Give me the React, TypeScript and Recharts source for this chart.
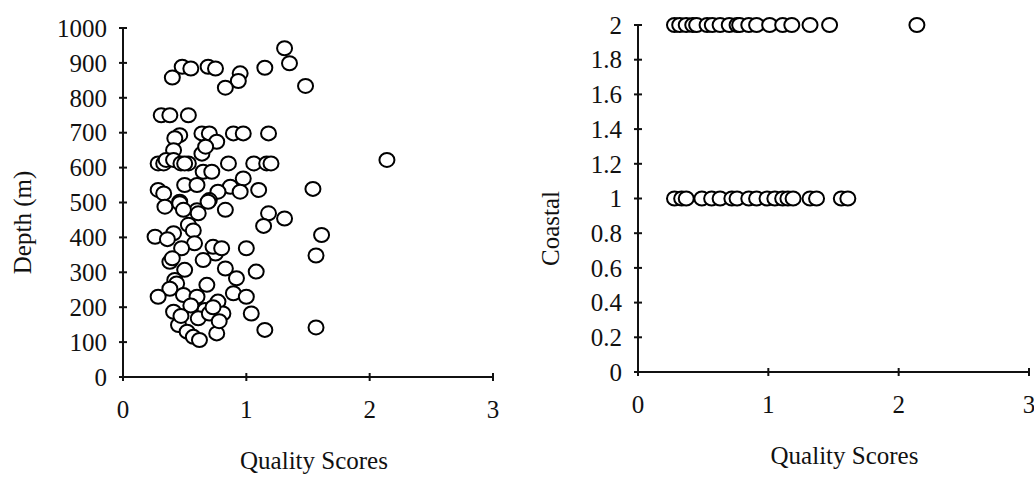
import React from 'react';
import { ScatterChart, Scatter, XAxis, YAxis } from 'recharts';

// Left panel: quality score vs depth (m)
const depthQuality: number[] = [
  1.31, 1.35, 1.48, 1.15, 0.95, 0.935, 0.83, 0.69, 0.75, 0.48, 0.55, 0.40,
  0.31, 0.38, 0.53,
  0.46, 0.42, 0.64, 0.70, 0.76, 0.895, 0.975, 1.18, 0.64, 0.67, 0.41,
  0.285, 0.33, 0.35, 0.41, 0.47, 0.53, 0.50, 0.855, 1.06, 1.165, 1.20, 2.14,
  0.65, 0.72, 0.975, 0.87, 0.50, 0.60, 0.285, 0.33, 0.77, 0.95, 1.10, 1.54,
  0.46, 0.70, 0.83, 0.34, 0.46, 0.60, 0.49, 0.61, 0.69, 1.18, 1.14, 1.31, 0.53, 0.57,
  1.61, 0.26, 0.41, 0.36, 0.58, 0.475, 0.75, 0.73, 0.80, 1.00, 1.565, 0.65, 0.38, 0.40,
  0.50, 0.83, 1.08, 0.92, 0.42, 0.435, 0.68, 0.38,
  0.285, 0.49, 0.60, 0.895, 1.00, 0.77, 0.665, 0.41, 0.61, 0.70, 0.81, 1.04, 0.73,
  0.45, 0.52, 0.57, 0.62, 0.76, 1.15, 1.565, 0.55, 0.47, 0.78,
];
const depthValues: number[] = [
  942, 899, 834, 886, 870, 848, 829, 889, 884, 889, 884, 858,
  750, 750, 750,
  693, 684, 698, 698, 674, 698, 698, 698, 640, 660, 650,
  612, 612, 622, 622, 612, 612, 612, 612, 612, 612, 612, 622,
  588, 588, 569, 545, 550, 550, 536, 526, 531, 531, 536, 539,
  502, 507, 479, 488, 498, 478, 479, 469, 502, 469, 433, 454, 436, 420,
  407, 402, 412, 395, 383, 369, 354, 373, 369, 369, 348, 335, 330, 340,
  307, 311, 302, 283, 278, 268, 264, 253,
  230, 235, 230, 240, 230, 216, 192, 187, 168, 182, 182, 182, 200,
  149, 130, 115, 106, 125, 135, 142, 205, 175, 160,
];

// Right panel: quality score vs coastal class (1 or 2)
const coastal2Quality: number[] = [
  0.28, 0.32, 0.37, 0.42, 0.45, 0.53, 0.57, 0.63, 0.70, 0.76, 0.78, 0.85, 0.91,
  1.01, 1.11, 1.18, 1.32, 1.47, 2.14,
];
const coastal1Quality: number[] = [
  0.28, 0.335, 0.37, 0.49, 0.565, 0.63, 0.72, 0.76, 0.85, 0.91, 0.99, 1.05,
  1.11, 1.15, 1.19, 1.32, 1.37, 1.56, 1.61,
];

const xTicks = [0, 1, 2, 3];
const depthTicks = [0, 100, 200, 300, 400, 500, 600, 700, 800, 900, 1000];
const coastalTicks = [0, 0.2, 0.4, 0.6, 0.8, 1, 1.2, 1.4, 1.6, 1.8, 2];

const depthData = depthQuality.map((x, i) => ({ x, y: depthValues[i] }));
const coastalData = [
  ...coastal2Quality.map((x) => ({ x, y: 2 })),
  ...coastal1Quality.map((x) => ({ x, y: 1 })),
];

const FONT = '"Liberation Serif", "Times New Roman", serif';
const FS = 25;
const INK = '#111';

const YTick = (props: any) => {
  const { x, y, payload } = props;
  return (
    <g>
      <line x1={x - 4} x2={x + 4} y1={y} y2={y} stroke={INK} strokeWidth={2} />
      <text x={x - 16} y={y} dy="0.35em" textAnchor="end" fontFamily={FONT} fontSize={FS} fill={INK}>
        {String(payload.value)}
      </text>
    </g>
  );
};

const XTick = (props: any) => {
  const { x, y, payload } = props;
  return (
    <g>
      <line x1={x} x2={x} y1={y - 4} y2={y + 4} stroke={INK} strokeWidth={2} />
      <text x={x} y={y + 32} dy="0.35em" textAnchor="middle" fontFamily={FONT} fontSize={FS} fill={INK}>
        {String(payload.value)}
      </text>
    </g>
  );
};

const Ring = (p: any) => (
  <ellipse cx={p.cx} cy={p.cy} rx={7.5} ry={7} fill="#fff" stroke="#000" strokeWidth={2} />
);

const xLabel = (dx: number) => (p: any) => {
  const vb = p.viewBox || {};
  return (
    <text x={vb.x + vb.width / 2 + dx} y={vb.y + 92} textAnchor="middle" fontFamily={FONT} fontSize={FS} fill={INK}>
      Quality Scores
    </text>
  );
};

const yLabel = (text: string, cx: number, dy: number) => (p: any) => {
  const vb = p.viewBox || {};
  const cy = vb.y + vb.height / 2 + dy;
  return (
    <text
      x={cx}
      y={cy}
      transform={`rotate(-90, ${cx}, ${cy})`}
      dy="0.35em"
      textAnchor="middle"
      fontFamily={FONT}
      fontSize={FS}
      fill={INK}
    >
      {text}
    </text>
  );
};

export default function App() {
  return (
    <div style={{ position: 'absolute', left: 0, top: 0, width: 1034, height: 478, background: '#fff' }}>
      <div style={{ position: 'absolute', left: 0, top: 0 }}>
        <ScatterChart width={520} height={478} margin={{ top: 28, right: 27, bottom: 0, left: 0 }}>
          <XAxis
            type="number"
            dataKey="x"
            domain={[0, 3]}
            ticks={xTicks}
            interval={0}
            height={101}
            tickSize={0}
            tickMargin={0}
            tickLine={false}
            tick={<XTick />}
            axisLine={{ stroke: INK, strokeWidth: 2 }}
            label={xLabel(6)}
          />
          <YAxis
            type="number"
            dataKey="y"
            domain={[0, 1000]}
            ticks={depthTicks}
            interval={0}
            width={123}
            tickSize={0}
            tickMargin={0}
            tickLine={false}
            tick={<YTick />}
            axisLine={{ stroke: INK, strokeWidth: 2 }}
            label={yLabel('Depth (m)', 22, 20)}
          />
          <Scatter data={depthData} shape={Ring} isAnimationActive={false} />
        </ScatterChart>
      </div>
      <div style={{ position: 'absolute', left: 520, top: 0 }}>
        <ScatterChart width={514} height={478} margin={{ top: 25, right: 5, bottom: 0, left: 0 }}>
          <XAxis
            type="number"
            dataKey="x"
            domain={[0, 3]}
            ticks={xTicks}
            interval={0}
            height={106}
            tickSize={0}
            tickMargin={0}
            tickLine={false}
            tick={<XTick />}
            axisLine={{ stroke: INK, strokeWidth: 2 }}
            label={xLabel(11)}
          />
          <YAxis
            type="number"
            dataKey="y"
            domain={[0, 2]}
            ticks={coastalTicks}
            interval={0}
            width={118}
            tickSize={0}
            tickMargin={0}
            tickLine={false}
            tick={<YTick />}
            axisLine={{ stroke: INK, strokeWidth: 2 }}
            label={yLabel('Coastal', 30, 30)}
          />
          <Scatter data={coastalData} shape={Ring} isAnimationActive={false} />
        </ScatterChart>
      </div>
    </div>
  );
}
